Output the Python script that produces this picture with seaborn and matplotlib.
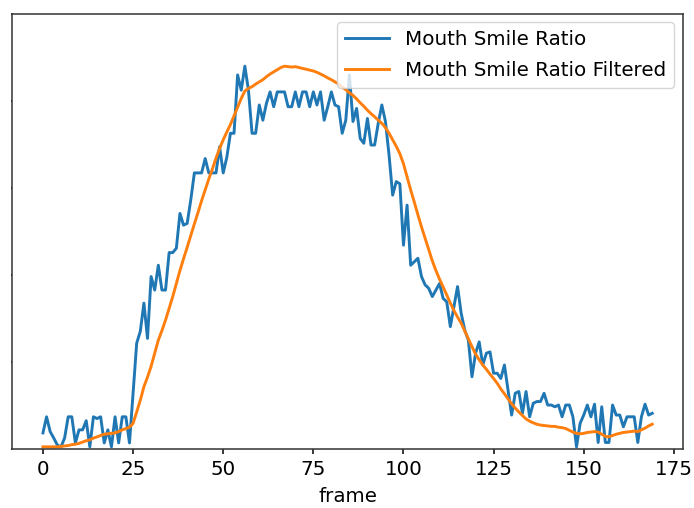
import matplotlib
matplotlib.use("Agg")
import matplotlib.pyplot as plt
import seaborn as sns
import numpy as np

# Per-frame smile ratio (raw) and its low-pass filtered version
smile_ratio = [
    0.037, 0.074, 0.040, 0.025, 0.009, 0.005, 0.025, 0.074, 0.074, 0.014,
    0.044, 0.044, 0.065, 0.005, 0.074, 0.070, 0.074, 0.014, 0.044, 0.005,
    0.074, 0.014, 0.074, 0.074, 0.014, 0.130, 0.243, 0.270, 0.335, 0.254,
    0.396, 0.365, 0.422, 0.365, 0.365, 0.451, 0.451, 0.461, 0.541, 0.514,
    0.518, 0.572, 0.634, 0.634, 0.634, 0.667, 0.634, 0.634, 0.634, 0.694,
    0.634, 0.670, 0.725, 0.725, 0.859, 0.824, 0.879, 0.824, 0.725, 0.725,
    0.790, 0.755, 0.794, 0.820, 0.786, 0.820, 0.820, 0.820, 0.786, 0.786,
    0.820, 0.786, 0.820, 0.820, 0.786, 0.820, 0.790, 0.820, 0.755, 0.786,
    0.820, 0.790, 0.786, 0.725, 0.755, 0.859, 0.752, 0.782, 0.713, 0.702,
    0.759, 0.698, 0.698, 0.748, 0.790, 0.752, 0.675, 0.583, 0.614, 0.609,
    0.468, 0.560, 0.422, 0.430, 0.438, 0.396, 0.377, 0.369, 0.350, 0.365,
    0.380, 0.346, 0.338, 0.281, 0.327, 0.373, 0.312, 0.273, 0.250, 0.166,
    0.220, 0.246, 0.193, 0.220, 0.223, 0.174, 0.174, 0.162, 0.193, 0.135,
    0.078, 0.128, 0.132, 0.082, 0.132, 0.074, 0.105, 0.109, 0.109, 0.128,
    0.101, 0.101, 0.097, 0.101, 0.074, 0.101, 0.101, 0.074, 0.005, 0.059,
    0.078, 0.101, 0.074, 0.103, 0.015, 0.097, 0.015, 0.015, 0.101, 0.078,
    0.078, 0.051, 0.074, 0.074, 0.074, 0.015, 0.074, 0.103, 0.078, 0.082,
]

smile_ratio_filtered = [
    0.005, 0.005, 0.005, 0.005, 0.005, 0.006, 0.007, 0.008, 0.010, 0.011,
    0.013, 0.016, 0.019, 0.021, 0.025, 0.028, 0.031, 0.034, 0.035, 0.036,
    0.037, 0.040, 0.044, 0.047, 0.050, 0.059, 0.085, 0.112, 0.143, 0.165,
    0.190, 0.220, 0.250, 0.272, 0.296, 0.323, 0.350, 0.380, 0.410, 0.437,
    0.463, 0.490, 0.517, 0.543, 0.570, 0.595, 0.620, 0.643, 0.668, 0.690,
    0.710, 0.728, 0.745, 0.765, 0.785, 0.805, 0.822, 0.828, 0.832, 0.838,
    0.843, 0.848, 0.855, 0.861, 0.866, 0.871, 0.876, 0.879, 0.878, 0.877,
    0.878, 0.876, 0.874, 0.872, 0.870, 0.868, 0.865, 0.861, 0.857, 0.852,
    0.848, 0.843, 0.838, 0.831, 0.825, 0.818, 0.812, 0.804, 0.795, 0.787,
    0.778, 0.770, 0.763, 0.755, 0.748, 0.738, 0.725, 0.710, 0.695, 0.678,
    0.655, 0.625, 0.595, 0.567, 0.538, 0.510, 0.484, 0.458, 0.432, 0.410,
    0.390, 0.372, 0.354, 0.335, 0.318, 0.303, 0.289, 0.271, 0.253, 0.235,
    0.218, 0.205, 0.193, 0.183, 0.172, 0.162, 0.151, 0.138, 0.127, 0.115,
    0.104, 0.094, 0.085, 0.077, 0.069, 0.064, 0.060, 0.057, 0.055, 0.054,
    0.053, 0.052, 0.052, 0.050, 0.049, 0.047, 0.043, 0.039, 0.036, 0.035,
    0.036, 0.038, 0.039, 0.040, 0.039, 0.034, 0.029, 0.028, 0.031, 0.034,
    0.036, 0.038, 0.039, 0.040, 0.041, 0.040, 0.044, 0.048, 0.053, 0.057,
]

frames = list(range(len(smile_ratio)))
series_labels = ["Mouth Smile Ratio", "Mouth Smile Ratio Filtered"]
x_label = "frame"

plt.rcParams["font.family"] = ["DejaVu Sans"]
plt.rcParams["font.size"] = 14.3

fig = plt.figure(figsize=(6.94, 5.08), dpi=100)
ax = fig.add_axes([0.018, 0.1161, 0.9657, 0.8573])

sns.lineplot(x=frames, y=smile_ratio, ax=ax, color="#1f77b4",
             linewidth=2.1, label=series_labels[0])
sns.lineplot(x=frames, y=smile_ratio_filtered, ax=ax, color="#ff7f0e",
             linewidth=2.1, label=series_labels[1])

ax.set_ylim(0, 1)
ax.set_yticks(np.arange(0, 1.01, 0.2))
ax.set_yticklabels([])
ax.set_xticks(np.arange(0, 176, 25))
ax.set_xlabel(x_label, fontsize=14.3, labelpad=6)
ax.set_ylabel("")
ax.tick_params(axis="x", length=3.6, width=1.1, labelsize=14.3, pad=4)
ax.tick_params(axis="y", length=1, width=1.1)
for sp in ax.spines.values():
    sp.set_linewidth(1.1)
    sp.set_color("#333333")

ax.legend(loc="upper right", fontsize=14.3, handlelength=2.2,
          labelspacing=0.6, borderaxespad=0.45)

fig.savefig("out.png", dpi=100)
